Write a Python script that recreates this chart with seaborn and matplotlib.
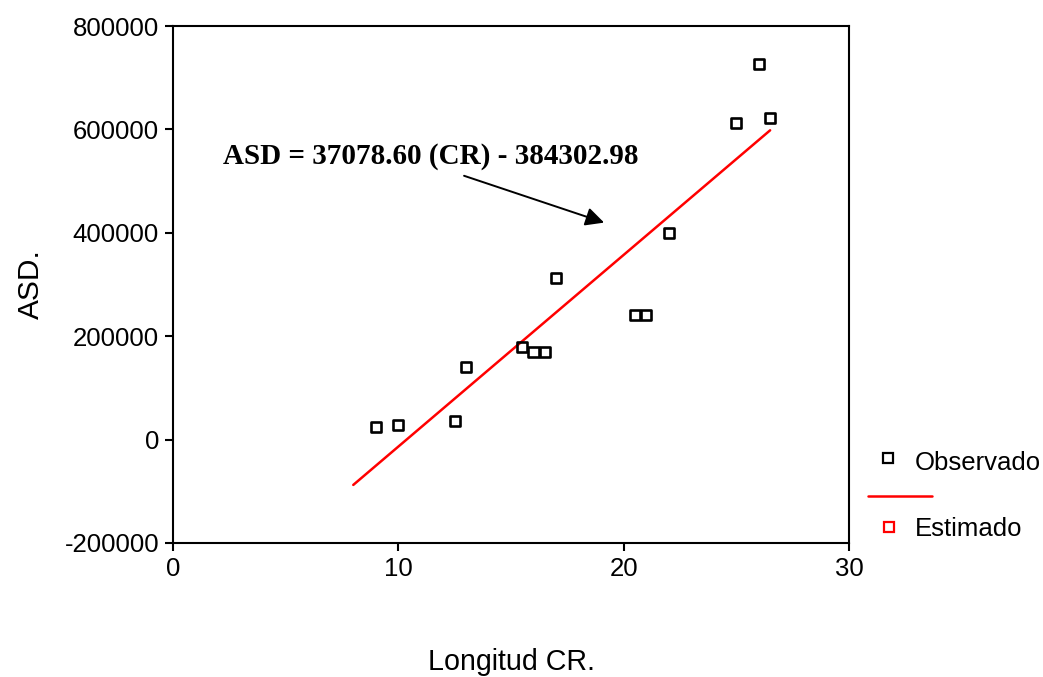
import matplotlib
matplotlib.use("Agg")
import matplotlib.pyplot as plt
import seaborn as sns
import pandas as pd
from matplotlib.lines import Line2D

# Observed data
obs_cr = [9.0, 10.0, 12.5, 13.0, 15.5, 16.0, 16.5, 17.0, 20.5, 21.0, 22.0, 25.0, 26.0, 26.5]
obs_asd = [24000, 28000, 36000, 140000, 179000, 170000, 170000, 312000, 241000, 241000, 400000, 612000, 726000, 622000]

# Estimated (fitted) line endpoints
est_cr = [8.0, 26.5]
est_asd = [-87674, 598280]

equation = "ASD = 37078.60 (CR) - 384302.98"
x_ticks = [0, 10, 20, 30]
y_ticks = [-200000, 0, 200000, 400000, 600000, 800000]
legend_labels = ["Observado", "Estimado"]

sns.set_theme(style="ticks")
plt.rcParams['font.family'] = ['Liberation Sans', 'DejaVu Sans']
plt.rcParams['text.color'] = 'black'
plt.rcParams['axes.labelcolor'] = 'black'
plt.rcParams['xtick.color'] = 'black'
plt.rcParams['ytick.color'] = 'black'

W, H = 1043, 677
fig = plt.figure(figsize=(W / 100, H / 100), dpi=100)
ax = fig.add_axes([173 / W, 1 - 543 / H, (849 - 173) / W, (543 - 26) / H])

df_obs = pd.DataFrame({"CR": obs_cr, "ASD": obs_asd})
df_est = pd.DataFrame({"CR": est_cr, "ASD": est_asd})

sns.lineplot(data=df_est, x="CR", y="ASD", ax=ax, color="red", linewidth=1.8)
sns.scatterplot(data=df_obs, x="CR", y="ASD", ax=ax, marker="s", s=55,
                facecolor="none", edgecolor="black", linewidth=1.9, zorder=5)

ax.set_xlim(0, 30)
ax.set_ylim(-200000, 800000)
ax.set_xticks(x_ticks)
ax.set_yticks(y_ticks)
ax.set_xticklabels([str(t) for t in x_ticks], fontsize=18.5)
ax.set_yticklabels([str(t) for t in y_ticks], fontsize=18.5)
ax.set_xlabel("Longitud CR.", fontsize=20.6, labelpad=48)
ax.set_ylabel("ASD.", fontsize=21.5, labelpad=14)

for s in ax.spines.values():
    s.set_linewidth(1.5)
    s.set_color("black")
ax.tick_params(axis="both", direction="out", length=6, width=1.5, color="black", pad=4)

ax.annotate("", xy=(19.25, 418000), xytext=(12.8, 512000),
            arrowprops=dict(arrowstyle="-|>", color="black", lw=1.4, mutation_scale=28))
ax.text(2.2, 548000, equation, fontsize=21, fontweight="bold",
        family="Liberation Serif", va="center", ha="left")

# Legend drawn manually (SPSS-style layout)
def fx(px):
    return px / W

def fy(py):
    return 1 - py / H

fig.add_artist(Line2D([fx(888)], [fy(458)], marker="s", linestyle="none",
                      markerfacecolor="none", markeredgecolor="black",
                      markersize=7, markeredgewidth=1.6, transform=fig.transFigure))
fig.text(fx(915), fy(463), legend_labels[0], fontsize=18.5, va="center", ha="left")
fig.add_artist(Line2D([fx(868), fx(932)], [fy(496), fy(496)], color="red",
                      linewidth=1.8, transform=fig.transFigure))
fig.add_artist(Line2D([fx(889)], [fy(527)], marker="s", linestyle="none",
                      markerfacecolor="none", markeredgecolor="red",
                      markersize=7, markeredgewidth=1.6, transform=fig.transFigure))
fig.text(fx(915), fy(529), legend_labels[1], fontsize=18.5, va="center", ha="left")

fig.savefig("out.png", dpi=100)
